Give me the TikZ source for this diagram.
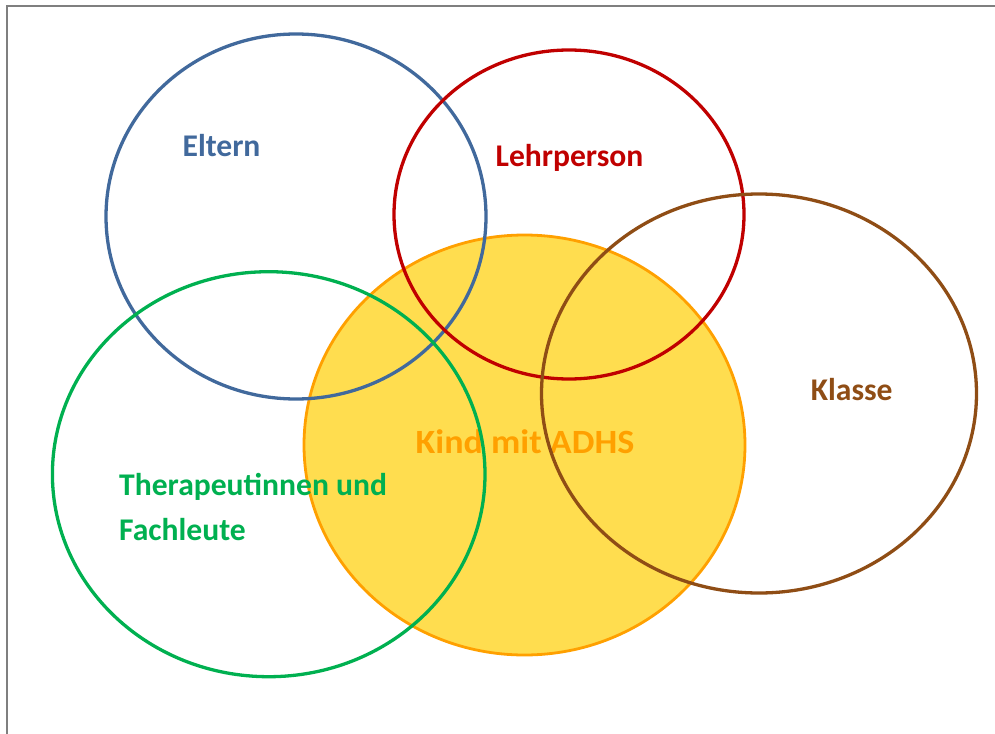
\documentclass[tikz,border=0pt]{standalone}
\usepackage{fontspec}
\setmainfont{Carlito}
\definecolor{cblue}{HTML}{41699C}
\definecolor{cred}{HTML}{C00000}
\definecolor{cbrown}{HTML}{8F4D15}
\definecolor{cgreen}{HTML}{00B050}
\definecolor{cyellow}{HTML}{FFDD4F}
\definecolor{corange}{HTML}{FFA000}
\definecolor{cframe}{HTML}{7F7F7F}
\begin{document}
\begin{tikzpicture}[x=1pt,y=-1pt,
  ring/.style={line width=3.3pt},
  lbl/.style={inner sep=0pt,font=\fontsize{31.6}{44}\selectfont\bfseries}]
\useasboundingbox (0,0) rectangle (995,733);
% frame
\draw[cframe,line width=2pt] (7,740) -- (7,6) -- (1000,6);
% child circle
\fill[cyellow] (524.5,445) ellipse [x radius=220.5, y radius=210];
\draw[corange,line width=2.8pt] (524.5,445) ellipse [x radius=220.5, y radius=210];
\node[lbl,font=\fontsize{34}{40}\selectfont\bfseries,xscale=1.06,text=corange,anchor=base] (kind) at (525,453.3) {Kind mit ADHS};
% rings
\draw[ring,cblue] (296,216.5) ellipse [x radius=190, y radius=182.5];
\draw[ring,cred] (569,214.5) ellipse [x radius=175, y radius=164.5];
\draw[ring,cbrown] (759,393.5) ellipse [x radius=217.5, y radius=199.5];
\draw[ring,cgreen] (268.7,474.2) ellipse [x radius=216.3, y radius=202.5];
% labels
\node[lbl,text=cblue,anchor=base] (eltern) at (221.5,156) {Eltern};
\node[lbl,text=cred,anchor=base] (lehr) at (569.5,166.5) {Lehrperson};
\node[lbl,text=cbrown,anchor=base] (klasse) at (851.7,400.5) {Klasse};
\node[lbl,text=cgreen,anchor=base west] (ther1) at (119,495.7) {Therapeutinnen und};
\node[lbl,text=cgreen,anchor=base west] (ther2) at (119,540) {Fachleute};
\end{tikzpicture}
\end{document}
